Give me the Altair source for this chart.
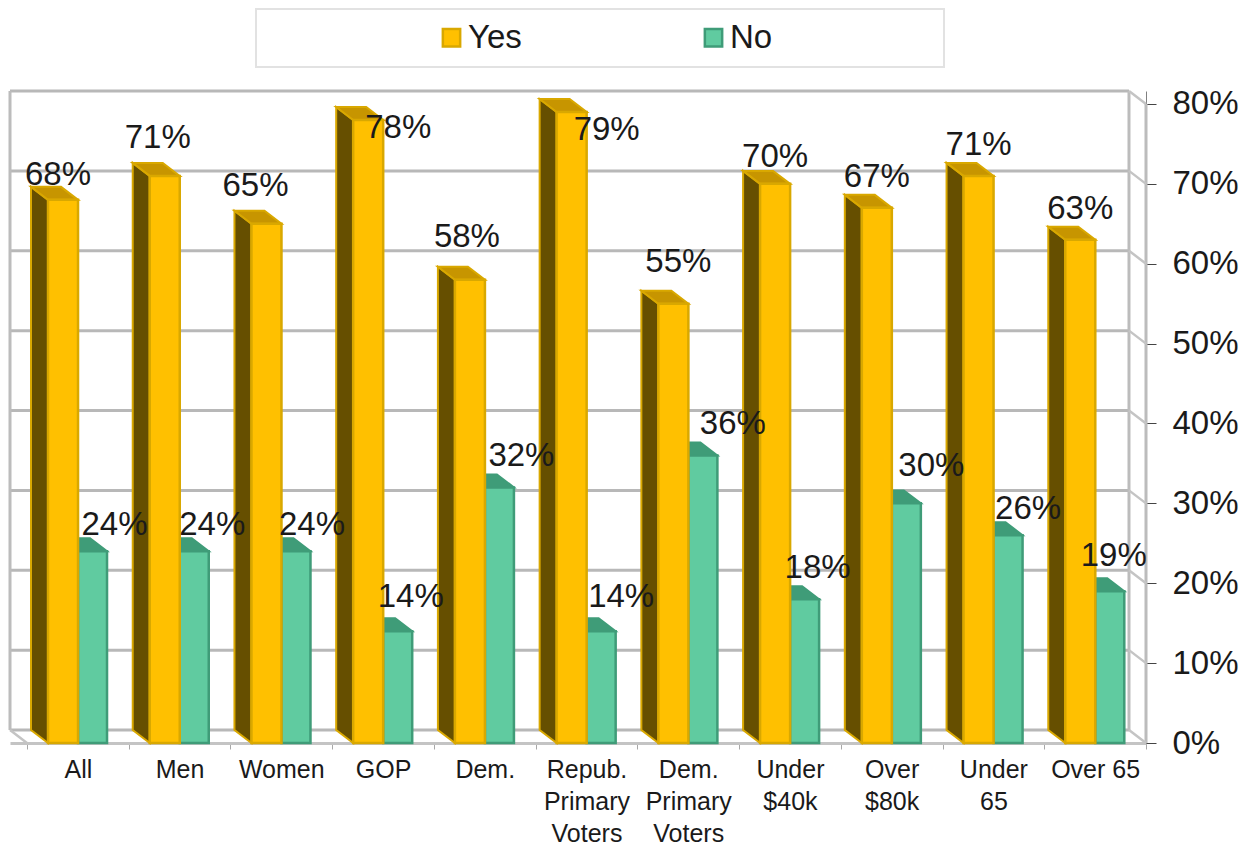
import altair as alt
import pandas as pd

categories = ["All", "Men", "Women", "GOP", "Dem.", "Repub.|Primary|Voters", "Dem.|Primary|Voters",
              "Under|$40k", "Over|$80k", "Under|65", "Over 65"]
yes_values = [68, 71, 65, 78, 58, 79, 55, 70, 67, 71, 63]
no_values = [24, 24, 24, 14, 32, 14, 36, 18, 30, 26, 19]
# hand-placed data labels in the original: nudges from each bar's top centre, in pixels
yes_label_dx = [-5, -7, -11, 30, -3, 35, 5, 0, 0, 0, 0]
yes_label_dy = [-25, -38, -38, 8, -43, 18, -42, -27, -31, -31, -31]
no_label_dx = [22, 18, 16, 13, 22, 20, 30, 13, 25, 20, 4]
no_label_dy = [-26, -26, -26, -34, -31, -34, -31, -31, -37, -26, -35]
y_ticks = [0, 10, 20, 30, 40, 50, 60, 70, 80]

SLOT = 101.7
PCT = 7.99
DX = 17 / SLOT
DY = 13 / PCT
N = len(categories)
YES_L, MID, NO_R = 21 / SLOT, 51 / SLOT, 80 / SLOT
FONT = "Liberation Sans"

xs = alt.Scale(domain=[-DX, N], nice=False, zero=False)
ys = alt.Scale(domain=[0, 80 + DY], nice=False, zero=False)
label_js = "[" + ",".join(f"'{c}'" for c in categories) + ",'']"
x_axis = alt.Axis(values=list(range(N + 1)), title=None, grid=False,
                  labelExpr=f"split({label_js}[datum.value], '|')",
                  labelOffset=SLOT / 2, labelFont=FONT, labelFontSize=25, labelColor="#1a1a1a",
                  labelLineHeight=32, labelPadding=8, labelOverlap=False, labelBound=False, labelFlush=False,
                  tickColor="#a8a8a8", tickSize=6, tickWidth=1,
                  domainColor="#c4c4c4", domainWidth=3)
y_axis = alt.Axis(orient="right", values=y_ticks, title=None, grid=False,
                  labelExpr="datum.value + '%'", labelFont=FONT, labelFontSize=33, labelColor="#1a1a1a",
                  labelPadding=16, labelOverlap=False, labelBound=False, labelFlush=False,
                  tickColor="#444444", tickSize=10, tickWidth=1,
                  domainColor="#808080", domainWidth=1)
X = alt.X("x:Q", scale=xs, axis=x_axis)
Y = alt.Y("y:Q", scale=ys, axis=y_axis)
X2 = alt.X2("x2:Q")
Y2 = alt.Y2("y2:Q")

# back wall
grid_df = pd.DataFrame({"x": [-DX] * len(y_ticks), "x2": [N - DX] * len(y_ticks),
                        "y": [t + DY for t in y_ticks]})
grid = alt.Chart(grid_df).mark_rule(color="#b8b8b8", strokeWidth=3).encode(x=X, x2=X2, y=Y)
walls_df = pd.DataFrame({"x": [-DX, N - DX, N], "y": [DY, DY, 0], "y2": [80 + DY, 80 + DY, 80]})
walls = alt.Chart(walls_df).mark_rule(color="#bcbcbc", strokeWidth=3).encode(x=X, y=Y, y2=Y2)

diag_rows = []
for t in y_ticks:
    diag_rows += [{"x": N - DX, "y": t + DY, "k": f"r{t}"}, {"x": N, "y": t, "k": f"r{t}"}]
diag_rows += [{"x": -DX, "y": DY, "k": "l"}, {"x": 0, "y": 0, "k": "l"}]
diags = alt.Chart(pd.DataFrame(diag_rows)).mark_line(color="#c4c4c4", strokeWidth=2.5).encode(
    x=X, y=Y, detail="k:N")


def top_rows(vals, left, right, tag):
    rows = []
    for i, v in enumerate(vals):
        k = f"{tag}{i}"
        rows.append({"x": i + left - DX, "y": v + DY, "y2": v + DY, "k": k})
        rows.append({"x": i + left, "y": v + DY, "y2": v, "k": k})
        rows.append({"x": i + right - DX, "y": v + DY, "y2": v, "k": k})
        rows.append({"x": i + right, "y": v, "y2": v, "k": k})
    return pd.DataFrame(rows)


def top_face(vals, left, right, tag, fill, stroke):
    return alt.Chart(top_rows(vals, left, right, tag)).mark_area(
        fill=fill, stroke=stroke, strokeWidth=2, opacity=1
    ).encode(x=X, y=Y, y2=Y2, detail="k:N")


side_rows = []
for i, v in enumerate(yes_values):
    side_rows.append({"x": i + YES_L - DX, "y": v + DY, "y2": DY, "k": f"s{i}"})
    side_rows.append({"x": i + YES_L, "y": v, "y2": 0, "k": f"s{i}"})
yes_side = alt.Chart(pd.DataFrame(side_rows)).mark_area(
    fill="#664F00", stroke="#D9A800", strokeWidth=2, opacity=1
).encode(x=X, y=Y, y2=Y2, detail="k:N")

front_df = pd.DataFrame(
    [{"x": i + MID, "x2": i + NO_R, "y": v, "y2": 0, "series": "No"} for i, v in enumerate(no_values)]
    + [{"x": i + YES_L, "x2": i + MID, "y": v, "y2": 0, "series": "Yes"} for i, v in enumerate(yes_values)]
)
legend = alt.Legend(title=None, orient="none", legendX=425, legendY=-70, direction="horizontal", columns=2,
                    symbolType="square", symbolSize=300, symbolStrokeWidth=2.5, symbolOpacity=1,
                    labelFont=FONT, labelFontSize=33, labelColor="#1a1a1a", labelOffset=0,
                    columnPadding=175, padding=0, labelLimit=200)
domain = ["Yes", "No"]
fronts = alt.Chart(front_df).mark_rect(strokeWidth=2.5).encode(
    x=X, x2=X2, y=Y, y2=Y2,
    fill=alt.Fill("series:N", scale=alt.Scale(domain=domain, range=["#FFC000", "#60CBA0"]), legend=legend, sort=domain),
    stroke=alt.Stroke("series:N", scale=alt.Scale(domain=domain, range=["#D9A800", "#3F9C78"]), legend=legend, sort=domain),
)

label_rows = []
for i in range(N):
    label_rows.append({"x": i + (YES_L + MID) / 2 + yes_label_dx[i] / SLOT,
                       "y": yes_values[i] - yes_label_dy[i] / PCT, "t": f"{yes_values[i]}%"})
    label_rows.append({"x": i + (MID + NO_R) / 2 + no_label_dx[i] / SLOT,
                       "y": no_values[i] - no_label_dy[i] / PCT, "t": f"{no_values[i]}%"})
labels = alt.Chart(pd.DataFrame(label_rows)).mark_text(
    font=FONT, fontSize=33, color="#1a1a1a", baseline="middle", align="center"
).encode(x=X, y=Y, text="t:N")

legend_box = alt.Chart(pd.DataFrame({"a": [0]})).mark_rect(fill="white", stroke="#e2e2e2", strokeWidth=2).encode(
    x=alt.value(246), x2=alt.value(934), y=alt.value(-82), y2=alt.value(-24))

chart = alt.layer(
    legend_box, grid, walls, diags,
    top_face(no_values, MID, NO_R, "n", "#3F9C78", "#3F9C78"),
    yes_side,
    top_face(yes_values, YES_L, MID, "y", "#C79500", "#D9A800"),
    fronts, labels,
).properties(
    width=1136, height=652,
    autosize=alt.AutoSizeParams(type="none"),
    padding={"left": 2, "top": 83, "right": 100, "bottom": 102},
).configure_view(stroke=None)

chart.save("out.html", embed_options={"renderer": "svg", "actions": False})
